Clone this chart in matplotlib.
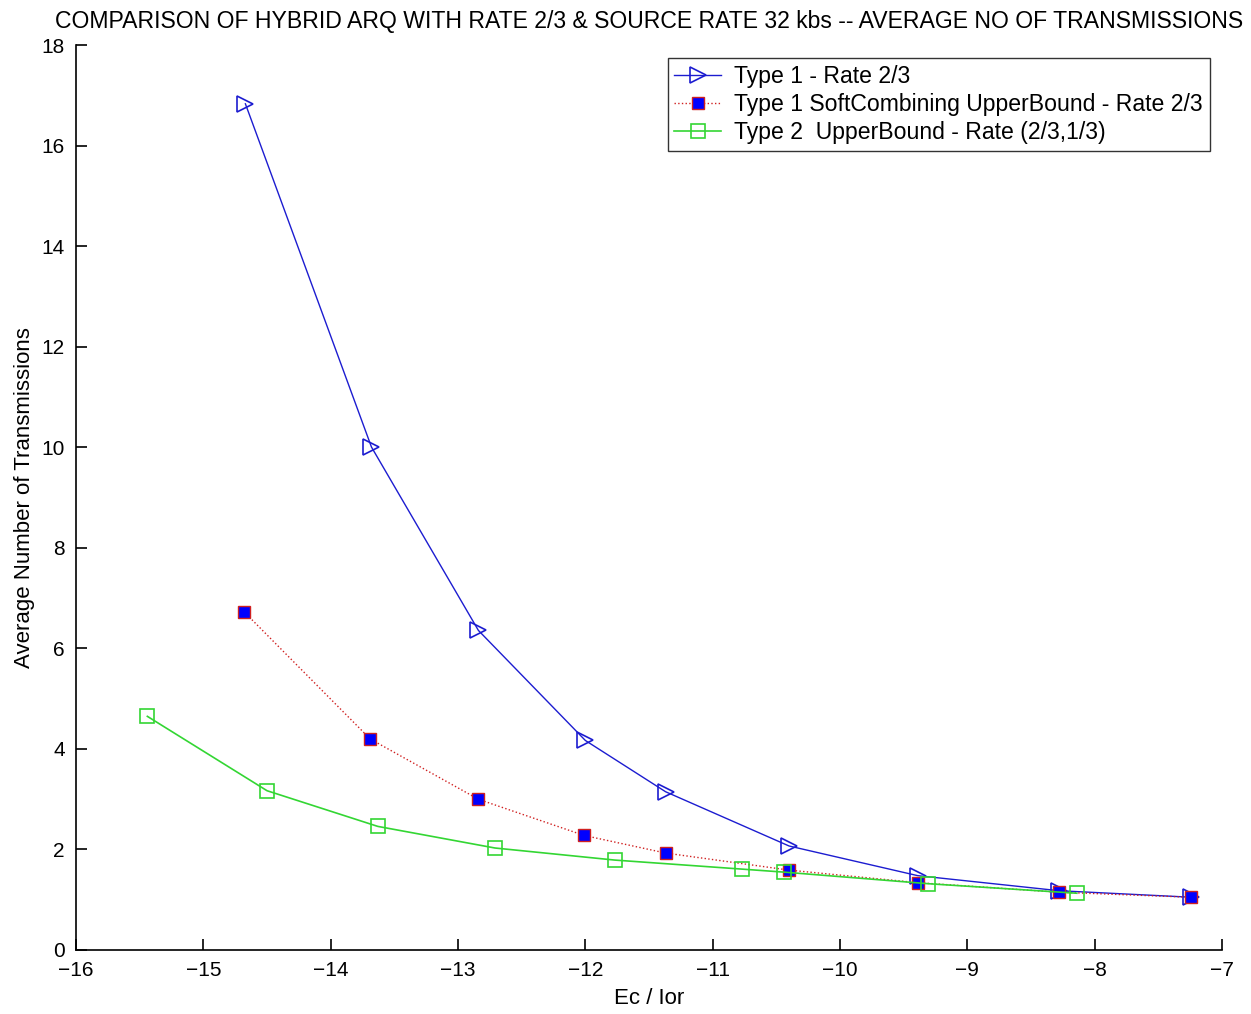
import matplotlib
matplotlib.use('Agg')
import matplotlib.pyplot as plt

plt.rcParams['font.family'] = ['Liberation Sans', 'DejaVu Sans']

# Type 1 - rate 2/3
x_type1 = [-14.67, -13.68, -12.84, -12.00, -11.37, -10.40, -9.39, -8.28, -7.24]
y_type1 = [16.83, 10.00, 6.35, 4.16, 3.14, 2.06, 1.47, 1.17, 1.04]

# Type 1 soft combining upper bound
x_soft = [-14.68, -13.69, -12.84, -12.01, -11.37, -10.40, -9.39, -8.28, -7.24]
y_soft = [6.72, 4.19, 2.99, 2.27, 1.92, 1.58, 1.33, 1.14, 1.04]

# Type 2 upper bound - rate (2/3,1/3)
x_type2 = [-15.44, -14.50, -13.63, -12.71, -11.77, -10.77, -10.44, -9.31, -8.14]
y_type2 = [4.64, 3.16, 2.45, 2.02, 1.78, 1.60, 1.54, 1.31, 1.12]

fig = plt.figure(figsize=(12.51, 10.14), dpi=100)
ax = fig.add_axes([0.0608, 0.0636, 0.916, 0.892])

ax.plot(x_type1, y_type1, color='#1c1cd0', lw=1.0, marker='>', ms=11,
        mfc='none', mec='#1c1cd0', mew=1.2, label='Type 1 - Rate 2/3')
ax.plot(x_soft, y_soft, color='#d02020', lw=1.0, ls=':', marker='s', ms=9,
        mfc='#0000ff', mec='#d02020', mew=1.0,
        label='Type 1 SoftCombining UpperBound - Rate 2/3')
ax.plot(x_type2, y_type2, color='#33d633', lw=1.2, marker='s', ms=10,
        mfc='none', mec='#33d633', mew=1.2,
        label='Type 2  UpperBound - Rate (2/3,1/3)')

ax.set_xlim(-16, -7)
ax.set_ylim(0, 18)
ax.set_xticks(range(-16, -6))
ax.set_yticks(range(0, 19, 2))
ax.tick_params(direction='in', length=8, width=1.2, labelsize=15, pad=8)
for s in ['top', 'right']:
    ax.spines[s].set_visible(False)
for s in ['left', 'bottom']:
    ax.spines[s].set_linewidth(1.2)

ax.set_xlabel('Ec / Ior', fontsize=16, labelpad=6)
ax.set_ylabel('Average Number of Transmissions', fontsize=16, labelpad=5)
ax.set_title('COMPARISON OF HYBRID ARQ WITH RATE 2/3 & SOURCE RATE 32 kbs -- '
             'AVERAGE NO OF TRANSMISSIONS', fontsize=16.6, pad=12)

leg = ax.legend(loc='upper right', bbox_to_anchor=(0.9895, 0.9856),
                borderaxespad=0, fontsize=16.6,
                frameon=True, fancybox=False, edgecolor='black',
                borderpad=0.3, labelspacing=0.22, handlelength=2.0,
                handletextpad=0.6)
leg.get_frame().set_linewidth(1.0)

fig.savefig('out.png', dpi=100)
